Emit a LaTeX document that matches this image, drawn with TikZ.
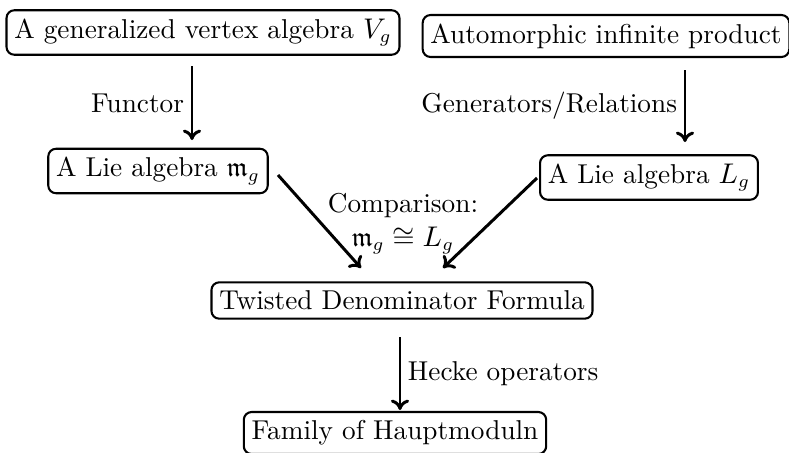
\documentclass[tikz,border=0pt]{standalone}
\usepackage{amssymb}
\usetikzlibrary{arrows.meta}
\begin{document}
\begin{tikzpicture}[x=0.385pt,y=-0.385pt,
  every node/.style={font=\fontsize{10.5}{12.5}\selectfont},
  box/.style={draw,line width=0.8pt,rounded corners=3pt,inner xsep=3pt,inner ysep=3.3pt},
  arr/.style={line width=1.15pt,-{To[length=4pt,width=7pt]}},
  lbl/.style={inner sep=2.5pt}]
\useasboundingbox (0,0) rectangle (789,452);
\node[box] (vg) at (203,32.5) {A generalized vertex algebra $V_g$};
\node[box] (aip) at (606,36) {Automorphic infinite product};
\node[box] (mg) at (158,171) {A Lie algebra $\mathfrak{m}_g$};
\node[box] (lg) at (649,177.5) {A Lie algebra $L_g$};
\node[box] (tdf) at (402,300.5) {Twisted Denominator Formula};
\node[box] (fh) at (395,433) {Family of Hauptmoduln};
\coordinate (a1s) at (192,66);
\coordinate (a1e) at (192,140);
\coordinate (a2s) at (685,70);
\coordinate (a2e) at (685,142);
\coordinate (d1s) at (278,175);
\coordinate (d1e) at (361,268);
\coordinate (d2s) at (537,178);
\coordinate (d2e) at (443,268);
\coordinate (a5s) at (400,337);
\coordinate (a5e) at (400,410);
\draw[arr] (a1s) -- node[lbl,left] {Functor} (a1e);
\draw[arr] (a2s) -- node[lbl,left] {Generators/Relations} (a2e);
\draw[arr] (d1s) -- (d1e);
\draw[arr] (d2s) -- (d2e);
\draw[arr] (a5s) -- node[lbl,right] {Hecke operators} (a5e);
\node[anchor=base,inner sep=0pt] (cmp1) at (403,212) {Comparison:};
\node[anchor=base,inner sep=0pt] (cmp2) at (403,246) {$\mathfrak{m}_g\cong L_g$};
\end{tikzpicture}
\end{document}
